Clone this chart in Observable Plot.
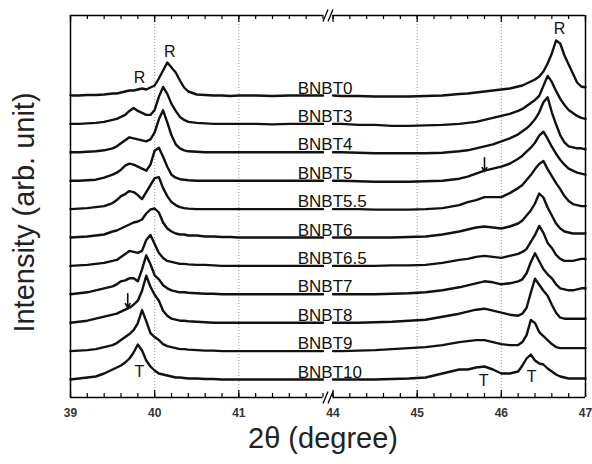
<!DOCTYPE html>
<html><head><meta charset="utf-8">
<script src="https://cdn.jsdelivr.net/npm/d3@7"></script>
<script src="https://cdn.jsdelivr.net/npm/@observablehq/plot@0.6"></script>
<style>html,body{margin:0;padding:0;background:#fff} svg{display:block}</style>
</head><body><div id="chart"></div>
<script>
// ---- data ----
const samples = ["BNBT0","BNBT3","BNBT4","BNBT5","BNBT5.5","BNBT6","BNBT6.5","BNBT7","BNBT8","BNBT9","BNBT10"];
const twoTheta = [
  39.0,39.1,39.2,39.3,39.4,39.5,39.55,39.6,39.65,39.7,39.75,39.8,39.85,39.9,39.95,40.0,40.05,40.1,40.15,40.2,40.25,40.3,40.35,40.4,40.5,40.6,40.7,40.8,40.9,41.0,41.2,41.4,41.6,41.8,42.0,
  44.0,44.1,44.3,44.5,44.7,44.9,45.1,45.3,45.5,45.6,45.7,45.8,45.9,46.0,46.1,46.2,46.25,46.3,46.35,46.4,46.45,46.5,46.55,46.6,46.65,46.7,46.75,46.8,46.85,46.9,46.95,47.0
];
const BNBT0 = [0,0,0.5,0.5,1,2,2,3,4,5,5,6,7,6,8,10,17,25,33,28,23,15,8,4,1,0.5,0,0,-0.5,0,0,-0.5,0,0,0,
  0,-0.5,-0.5,-1,-1,-1,-0.5,0,1.5,2,3,4,5,6,7,9,10,12,14,16,19,24,32,42,55,52,40,31,22,13,9,8];
const BNBT3 = [0,0,0.5,1,2,4,5,7,9,13,16,13,11,9,9,14,27,37,30,20,13,7,4,2,1,0.5,0,0,0,0,0,-0.5,0,0,0,
  0,0,-1,-1,-2,-2,-1.5,-1,0,1,2,4,6,8,10,13,15,18,21,24,28,38,48,42,33,25,19,14,11,8,6,5];
const BNBT4 = [0,0,0.5,1,2,4,6,9,12,15,14,13,12,11,13,20,33,42,30,17,8,4,2,1,0.5,0,0,0,0,0,0,0,0,0,0,
  0,0,-0.5,-1,-1,-1,-1,-0.5,1,2,4,6,8,11,14,18,21,24,28,33,40,50,55,40,28,17,10,6,5,4,4,3];
const BNBT5 = [0,0,0.5,1,3,6,8,11,15,17,16,14,12,10,16,30,33,24,14,6,3,1.5,1,0.5,0,0,0,0,0,0,0,0,0,0,0,
  0,0,-0.5,-1,-1,-1,-0.5,0,2,4,7,10,12,14,17,22,25,29,33,38,45,49,42,34,27,21,16,12,10,8,7,6];
const BNBT5_5 = [0,0.5,1,2,3,6,9,13,15,18,17,14,10,17,24,31,32,21,13,7,4,2,1,0.5,0,0,0,0,0,0,0,0,0,0,0,
  0,0,0,-0.5,-0.5,-0.5,0,1,4,7,9,12,12,12,16,21,24,29,34,40,45,48,40,33,26,20,13,8,5,4,3,3];
const BNBT6 = [0,0.5,1,2,3,6,7,9,11,13,15,16,18,24,28,29,25,15,9,6,4,3,3,2,2,1,1,0.5,0.5,0,0,0,0,0,0,
  0,0,0,0,0,0.5,1,3,6,8,10,11,10,9,11,14,17,22,27,34,44,40,30,22,14,9,6,5,4,4,4,4];
const BNBT6_5 = [0,0.5,1,2,3,5,6,9,12,15,14,13,15,26,31,22,13,8,5,4,3,2,2,1.5,1,1,0.5,0,0,0,0,0,0,0,0,
  0,0,0,0,0.5,0.5,1,3,6,7,9,10,9,8,10,12,14,17,24,31,40,33,23,18,11,7,5,5,5,6,7,7];
const BNBT7 = [0,1,2,4,6,8,10,13,14,16,16,13,25,39,30,19,15,9,6,4,3,2,2,1.5,1,0.5,0.5,0,0,0,0,0,0,0,0,
  0,0,0,0,0.5,1,2,4,7,9,11,13,12,10,11,13,15,21,32,41,33,25,20,16,10,6,5,4,4,5,6,6];
const BNBT8 = [0,1,2,4,6,8,9,11,13,15,18,22,32,47,36,28,22,12,7,4,3,2,2,1.5,1,0.5,0,0,0,0,0,0,0,0,0,
  0,0,0,0.5,1,2,3,6,9,11,13,14,12,10,8,7,9,15,30,44,38,32,27,18,10,5,4,4,4,4,4,4];
const BNBT9 = [0,0.5,1,2,4,6,8,11,14,17,21,28,41,30,18,14,11,7,5,4,3,2,2,1.5,1,0.5,0.5,0,0,0,0,0,0,0,0,
  0,0,0.5,1,2,3,4,6,9,10,11,11,9,7,6,6,9,16,31,28,19,15,11,7,4,3,3,3,3,3,3,3];
const BNBT10 = [0,1,2,3,6,10,12,14,17,21,27,35,29,19,13,9,6,5,4,3,2,2,1.5,1,1,0.5,0.5,0,0,0,0,0,0,0,0,
  0,0,0,0,0.5,1,2,6,10,10,12,13,10,6,6,8,14,21,25,19,16,15,11,8,5,3,2,1,1,1,1,1];
const intensities = [BNBT0,BNBT3,BNBT4,BNBT5,BNBT5_5,BNBT6,BNBT6_5,BNBT7,BNBT8,BNBT9,BNBT10];

const majorTicks = [39,40,41,44,45,46,47];
const gridX = [40,41,45,46];
const peakLetters = [
  {text:"R", sample:"BNBT0", x:39.82, h:18},
  {text:"R", sample:"BNBT0", x:40.18, h:44},
  {text:"R", sample:"BNBT0", x:46.69, h:67},
  {text:"T", sample:"BNBT10", x:39.82, h:8},
  {text:"T", sample:"BNBT10", x:45.79, h:-1},
  {text:"T", sample:"BNBT10", x:46.36, h:3}
];
const arrows = [
  {sample:"BNBT8", x:39.68, from:29, to:15},
  {sample:"BNBT5", x:45.80, from:23, to:9}
];

// ---- layout ----
const step = 28.4;             // vertical offset between stacked patterns
const yBot = -18, yTop = 364;
const offsetOf = s => (samples.length - 1 - samples.indexOf(s)) * step;
// broken axis: 39–42 and 44–47 with a narrow gap between them
const gap = 0.119;
const brk = t => t <= 42 ? t : t >= 44 ? t - 2 + gap : 42 + (t - 42) / 2 * gap;

const table = [];
samples.forEach((s, k) => {
  const vals = intensities[k];
  twoTheta.forEach((t, i) => {
    table.push({sample: s, seg: t <= 42 ? "a" : "b", x: t, y: offsetOf(s) + vals[i]});
  });
});

const minorTicks = [];
for (let v = 39; v <= 42.001; v += 0.2) minorTicks.push(+v.toFixed(1));
for (let v = 44; v <= 47.001; v += 0.2) minorTicks.push(+v.toFixed(1));

const slashes = [
  {x1:42.0, x2:43.0, y1:yBot-6, y2:yBot+6}, {x1:43.0, x2:44.0, y1:yBot-6, y2:yBot+6},
  {x1:42.0, x2:43.0, y1:yTop-6, y2:yTop+6}, {x1:43.0, x2:44.0, y1:yTop-6, y2:yTop+6}
];

const chart = Plot.plot({
  width: 592, height: 464,
  marginLeft: 70, marginRight: 7, marginTop: 15, marginBottom: 67,
  x: {domain: [39, 47 - 2 + gap], axis: null},
  y: {domain: [yBot, yTop], axis: null},
  style: {fontFamily: "'Liberation Sans', Arial, sans-serif", background: "#fff", overflow: "visible"},
  marks: [
    Plot.ruleX(gridX, {x: d => brk(d), y1: yBot, y2: yTop, stroke: "#999", strokeWidth: 1, strokeDasharray: "1,2"}),
    Plot.line(table, {x: d => brk(d.x), y: "y", z: d => d.sample + d.seg, stroke: "#111", strokeWidth: 2.4, strokeLinejoin: "round"}),
    // frame
    Plot.ruleX([39, 47], {x: d => brk(d), y1: yBot, y2: yTop, stroke: "#000", strokeWidth: 1.5}),
    Plot.ruleY([yBot, yTop], {y: d => d, x1: brk(39), x2: brk(42), stroke: "#000", strokeWidth: 1.5}),
    Plot.ruleY([yBot, yTop], {y: d => d, x1: brk(44), x2: brk(47), stroke: "#000", strokeWidth: 1.5}),
    Plot.link(slashes, {x1: d => brk(d.x1), x2: d => brk(d.x2), y1: "y1", y2: "y2", stroke: "#000", strokeWidth: 1.3}),
    // ticks (inward)
    Plot.ruleX(minorTicks, {x: d => brk(d), y1: yBot, y2: yBot + 4, stroke: "#000", strokeWidth: 1.2}),
    Plot.ruleX(minorTicks, {x: d => brk(d), y1: yTop, y2: yTop - 4, stroke: "#000", strokeWidth: 1.2}),
    Plot.ruleX(majorTicks, {x: d => brk(d), y1: yBot, y2: yBot + 7, stroke: "#000", strokeWidth: 1.2}),
    Plot.ruleX(majorTicks, {x: d => brk(d), y1: yTop, y2: yTop - 7, stroke: "#000", strokeWidth: 1.2}),
    Plot.text(majorTicks, {x: d => brk(d), y: yBot, dy: 16, text: d => String(d), fontSize: 12, fontWeight: "bold", fill: "#333"}),
    // sample labels
    Plot.text(samples, {x: 41.7, y: d => offsetOf(d) + 2, text: d => d, textAnchor: "start", lineAnchor: "bottom", fontSize: 17, fill: "#111"}),
    // peak letters and arrows
    Plot.text(peakLetters, {x: d => brk(d.x), y: d => offsetOf(d.sample) + d.h, text: "text", fontSize: 16, fill: "#111"}),
    Plot.arrow(arrows, {x1: d => brk(d.x), x2: d => brk(d.x), y1: d => offsetOf(d.sample) + d.from, y2: d => offsetOf(d.sample) + d.to, stroke: "#111", strokeWidth: 1.6, headLength: 6}),
    // axis titles
    Plot.text(["2θ (degree)"], {frameAnchor: "bottom", dy: 50, dx: -5, text: d => d, fontSize: 29, fill: "#222"}),
    Plot.text(["Intensity (arb. unit)"], {frameAnchor: "left", textAnchor: "middle", dx: -46, dy: 6, rotate: -90, text: d => d, fontSize: 29, fill: "#222"})
  ]
});
document.getElementById("chart").appendChild(chart);
</script></body></html>
